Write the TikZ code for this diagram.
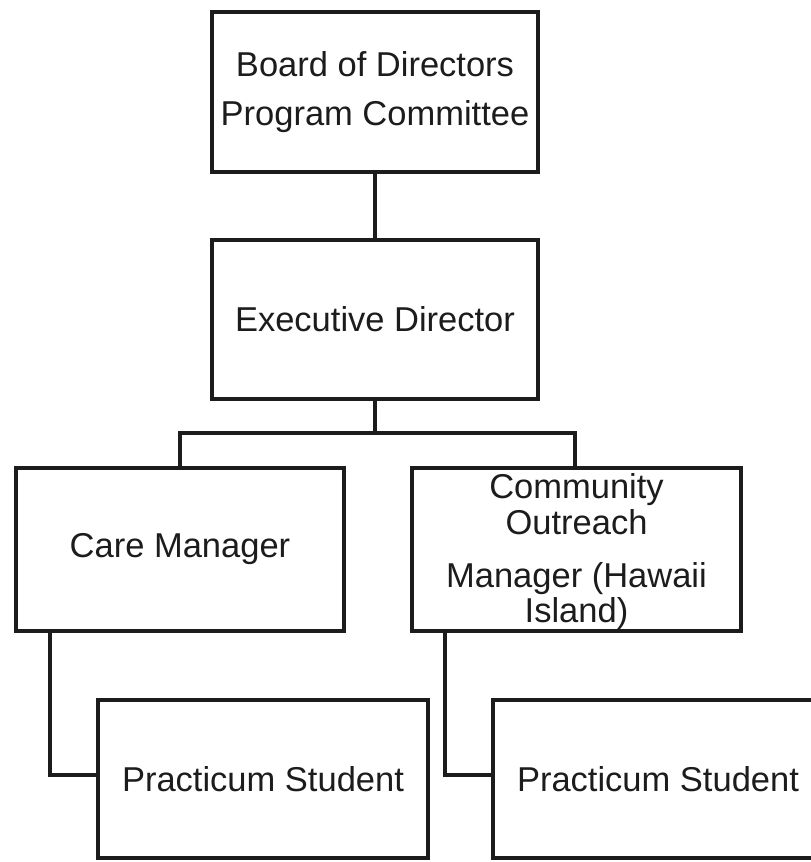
\documentclass[tikz,border=0pt]{standalone}
\usepackage{fontspec}
\setmainfont{Liberation Sans}
\definecolor{ink}{HTML}{1C1C1C}
\begin{document}
\begin{tikzpicture}[x=1pt,y=-1pt,
  orgbox/.style={draw=ink, line width=4.8pt, inner sep=0pt, outer sep=0pt,
    text=ink, align=center, font=\fontsize{34.5}{47}\selectfont},
  link/.style={draw=ink, line width=4.6pt, line cap=rect}]
  \useasboundingbox (0,0) rectangle (811,862);
  \clip (0,0) rectangle (811,862);

  % top levels
  \node[orgbox, minimum width=326pt, minimum height=160pt] (board) at (375,92)
    {\raisebox{2pt}{\shortstack{Board of Directors\\[20pt]Program Committee}}};
  \node[orgbox, minimum width=326pt, minimum height=159pt] (exec) at (375,319.5)
    {Executive Director};

  % managers
  \node[orgbox, minimum width=328pt, minimum height=163pt] (care) at (180,549.5)
    {Care Manager};
  \node[orgbox, minimum width=329pt, minimum height=163pt] (outreach) at (576.5,549.5)
    {\raisebox{-10pt}[0pt][0pt]{\fontsize{34.5}{34}\selectfont
      \begin{tabular}{@{}c@{}}Community\\Outreach\\[18pt]Manager (Hawaii\\Island)\end{tabular}}};

  % students
  \node[orgbox, minimum width=330pt, minimum height=158pt] (stuA) at (263,779)
    {Practicum Student};
  \node[orgbox, minimum width=330pt, minimum height=158pt] (stuB) at (658,779)
    {Practicum Student};

  % reporting lines
  \coordinate (bus) at (375,433);
  \draw[link] (board.south) -- (exec.north);
  \draw[link] (exec.south) -- (bus) -| (care.north);
  \draw[link] (bus) -| ([xshift=-1.5pt]outreach.north);
  \draw[link] ([xshift=34pt]care.south west) |- ([yshift=4pt]stuA.west);
  \draw[link] ([xshift=33pt]outreach.south west) |- ([yshift=4pt]stuB.west);
\end{tikzpicture}
\end{document}
